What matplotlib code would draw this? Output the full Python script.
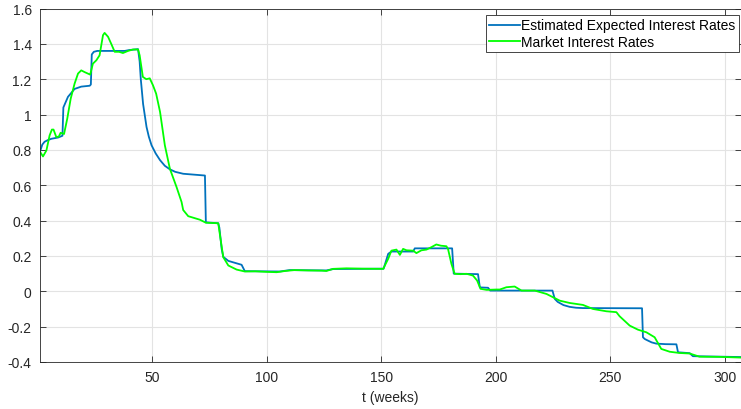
import matplotlib
matplotlib.use("Agg")
import matplotlib.pyplot as plt
from matplotlib.ticker import FuncFormatter

plt.rcParams['font.family'] = ['Liberation Sans', 'DejaVu Sans']
plt.rcParams['axes.unicode_minus'] = False

# estimated expected rates (weeks, value)
est_t = [1, 2, 3, 4.5, 6, 8.9, 10.8, 11.2, 13.2, 16.1, 19, 22.7, 23.2, 23.6, 24.5, 26,
         38, 40, 43.8, 44.5, 45, 46, 47.5, 48.5, 49.7, 51.5, 53.4, 55.5, 57.7, 60, 63.5,
         73, 73.4, 78.8, 79.3, 80.3, 81, 83.2, 89, 90.4, 105.7, 110, 126, 129, 151, 153,
         154.4, 163.9, 164.6, 180.9, 181.6, 192.2, 193, 196.6, 197.5, 224.7, 225.7, 227,
         229.5, 232.2, 235, 238, 263.8, 264.2, 265, 266.4, 268, 270, 274, 278.8, 279.5,
         284.6, 286, 307]
est_v = [0.79, 0.83, 0.846, 0.856, 0.863, 0.87, 0.88, 1.04, 1.10, 1.145, 1.158, 1.163,
         1.17, 1.34, 1.355, 1.36, 1.36, 1.365, 1.37, 1.30, 1.20, 1.06, 0.93, 0.875, 0.826,
         0.78, 0.742, 0.71, 0.69, 0.676, 0.665, 0.655, 0.39, 0.385, 0.36, 0.24, 0.195,
         0.172, 0.15, 0.114, 0.112, 0.12, 0.118, 0.126, 0.128, 0.212, 0.225, 0.225, 0.243,
         0.243, 0.1, 0.097, 0.022, 0.02, 0.004, 0.004, -0.043, -0.06, -0.078, -0.088,
         -0.093, -0.095, -0.096, -0.26, -0.27, -0.279, -0.289, -0.296, -0.299, -0.3,
         -0.345, -0.35, -0.367, -0.372]

# market rates (weeks, value)
mkt_t = [1, 2.3, 3.8, 5.2, 6.2, 6.9, 8.1, 9.2, 10, 11.5, 12.9, 14.4, 16.1, 17.6, 19,
         20.5, 22.9, 24.1, 25.6, 27, 28.5, 29.2, 30.7, 32.1, 33.6, 35.5, 37.2, 39.4, 41.6,
         43.8, 44.5, 45.9, 47.4, 48.9, 50.3, 51.7, 53.4, 55.5, 57.7, 60.6, 62.8, 63.5,
         65.7, 70.8, 73.4, 78.8, 79.8, 81, 83.2, 86.8, 90.4, 95, 100, 104.3, 108, 112, 118,
         124, 126, 129, 134.8, 142, 150.8, 153, 154.4, 156.6, 158.1, 159.5, 161, 163.9,
         165.3, 167.5, 169.7, 171.9, 174, 176, 178.4, 179.1, 180.6, 182, 184.5, 187.2, 190,
         191.8, 193.3, 196, 200.2, 201.7, 204.6, 208.2, 211.2, 217, 222.1, 225, 227.9,
         232.2, 238, 242.4, 248.2, 252.6, 254, 258.4, 262, 265.7, 269.3, 272.2, 275.9,
         280.2, 284.6, 288.9, 297.7, 307]
mkt_v = [0.79, 0.763, 0.797, 0.882, 0.915, 0.915, 0.873, 0.875, 0.897, 0.89, 0.977, 1.09,
         1.175, 1.232, 1.25, 1.24, 1.226, 1.288, 1.307, 1.335, 1.449, 1.462, 1.44, 1.40,
         1.355, 1.355, 1.348, 1.36, 1.368, 1.368, 1.335, 1.213, 1.20, 1.205, 1.166, 1.118,
         1.015, 0.826, 0.693, 0.59, 0.505, 0.46, 0.425, 0.405, 0.388, 0.385, 0.297, 0.193,
         0.146, 0.123, 0.112, 0.113, 0.11, 0.108, 0.115, 0.12, 0.118, 0.117, 0.115, 0.127,
         0.13, 0.128, 0.127, 0.184, 0.23, 0.236, 0.206, 0.24, 0.232, 0.23, 0.216, 0.232,
         0.236, 0.25, 0.265, 0.258, 0.255, 0.24, 0.155, 0.099, 0.097, 0.099, 0.089, 0.061,
         0.014, 0.008, 0.01, 0.01, 0.023, 0.027, 0.004, 0.004, -0.015, -0.034, -0.053,
         -0.066, -0.077, -0.1, -0.113, -0.118, -0.141, -0.194, -0.217, -0.232, -0.26,
         -0.326, -0.342, -0.349, -0.352, -0.37, -0.371, -0.375]

x_ticks = [50, 100, 150, 200, 250, 300]
y_ticks = [-0.4, -0.2, 0, 0.2, 0.4, 0.6, 0.8, 1, 1.2, 1.4, 1.6]

fig = plt.figure(figsize=(7.41, 4.10), dpi=100)
ax = fig.add_axes([40 / 741, 1 - 363 / 410, 1 - 40 / 741, (363 - 9.5) / 410])

ax.plot(est_t, est_v, color='#0072BD', lw=1.3, label='Estimated Expected Interest Rates')
ax.plot(mkt_t, mkt_v, color='#00FF00', lw=1.3, label='Market Interest Rates')

ax.set_xlim(1, 307)
ax.set_ylim(-0.4, 1.6)
ax.set_xticks(x_ticks)
ax.set_yticks(y_ticks)
ax.yaxis.set_major_formatter(FuncFormatter(lambda v, p: '{:g}'.format(round(v, 2))))
ax.grid(True, color='#E3E3E3', lw=0.8)
ax.set_axisbelow(True)
ax.tick_params(direction='in', length=4, width=0.6, colors='#262626', labelsize=10,
               top=True, right=True, pad=6)
for s in ax.spines.values():
    s.set_color('#262626')
    s.set_linewidth(0.6)
ax.set_xlabel('t (weeks)', fontsize=10, color='#262626', labelpad=4)

leg = ax.legend(loc='upper right', bbox_to_anchor=(739 / 741, 1 - 16 / 410),
                bbox_transform=fig.transFigure, fontsize=10, fancybox=False,
                edgecolor='#262626', framealpha=1, borderpad=0.25, handlelength=2.2,
                handletextpad=0.1, labelspacing=0.15, borderaxespad=0)
leg.get_frame().set_linewidth(0.6)

fig.savefig('out.png', dpi=100)
